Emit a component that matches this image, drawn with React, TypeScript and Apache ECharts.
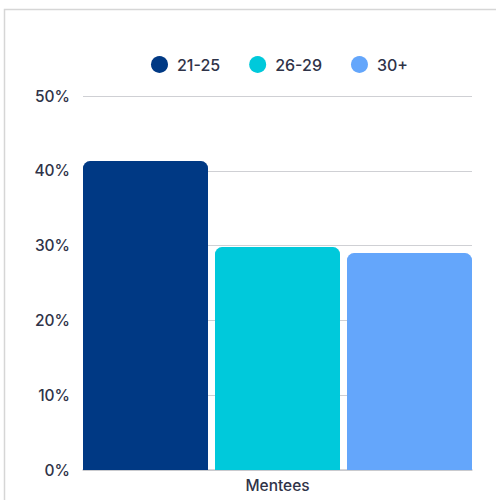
import React, { useEffect, useRef } from "react";
import * as echarts from "echarts";

const categories = ["Mentees"];
const seriesNames = ["21-25", "26-29", "30+"];
const seriesColors = ["#003984", "#00c9db", "#64a6fb"];
const seriesValues = [[41.3], [29.8], [29.0]];

export default function App() {
  const ref = useRef<HTMLDivElement>(null);
  useEffect(() => {
    if (!ref.current) return;
    const chart = echarts.init(ref.current, null, { renderer: "svg" });
    const font = "Inter";
    const textColor = "#2f3348";
    chart.setOption({
      animation: false,
      graphic: [
        {
          type: "rect",
          shape: { x: 4.5, y: 9.5, width: 700, height: 700 },
          style: { fill: "none", stroke: "#d6d6d6", lineWidth: 1.5 },
          silent: true,
        },
      ],
      legend: {
        top: 51,
        left: 146,
        icon: "circle",
        itemWidth: 17,
        itemHeight: 17,
        itemGap: 29,
        textStyle: {
          fontFamily: font,
          fontSize: 16,
          fontWeight: 500,
          color: textColor,
          padding: [0, 0, 0, 4],
        },
        data: seriesNames,
      },
      grid: { left: 83, right: 24, top: 96, bottom: 30 },
      xAxis: {
        type: "category",
        data: categories,
        axisTick: { show: false },
        axisLine: { lineStyle: { color: "#c8c8cc", width: 1.5 } },
        axisLabel: { fontFamily: font, fontSize: 15.5, fontWeight: 500, color: textColor, margin: 7 },
      },
      yAxis: {
        type: "value",
        min: 0,
        max: 50,
        interval: 10,
        axisLabel: {
          fontFamily: font,
          fontSize: 15.5,
          fontWeight: 500,
          color: textColor,
          margin: 13,
          formatter: (v: number) => v + "%",
        },
        splitLine: { lineStyle: { color: "#cfd0d4", width: 1 } },
      },
      series: seriesNames.map((name, i) => ({
        name,
        type: "bar",
        data: seriesValues[i],
        barWidth: 125,
        barGap: "5.6%",
        itemStyle: { color: seriesColors[i], borderRadius: [7, 7, 0, 0] },
      })),
    });
    return () => chart.dispose();
  }, []);
  return (
    <div
      ref={ref}
      style={{ position: "absolute", left: 0, top: 0, width: 496, height: 500, background: "#fff" }}
    />
  );
}
